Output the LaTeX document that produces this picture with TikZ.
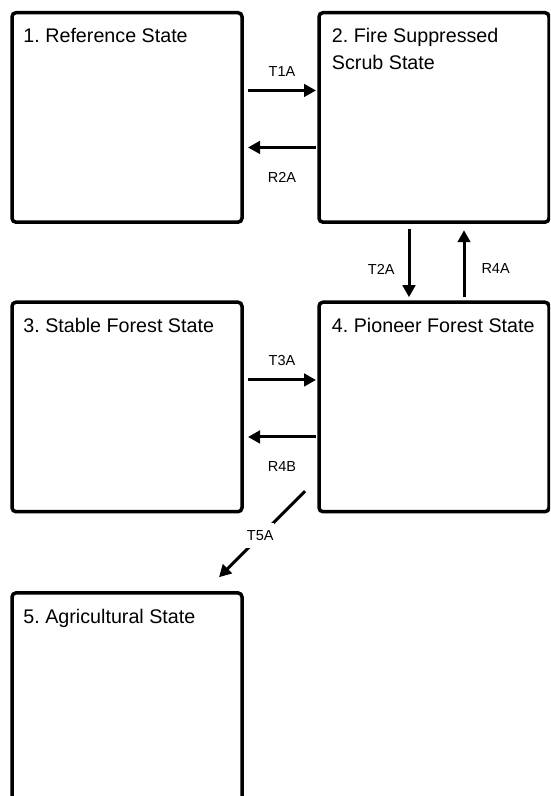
\documentclass[tikz,border=0pt]{standalone}
\usepackage{fontspec}
\setmainfont{Liberation Sans}
\usetikzlibrary{calc,positioning,arrows.meta}
\frenchspacing

\begin{document}
\begin{tikzpicture}[
                x=1pt,y=1pt,
                node distance=73.5pt,
                state/.style={draw,line width=3.5pt,rounded corners=4pt,minimum width=230pt,minimum height=209.5pt,inner sep=0pt},
                title/.style={anchor=base west,inner sep=0pt,align=left,font=\fontsize{19.7}{27}\selectfont},
                trans/.style={line width=3pt,-{Triangle[length=12pt,width=12.5pt]}},
                tlabel/.style={inner sep=0pt,font=\fontsize{14.5}{17}\selectfont}
            ]
                \useasboundingbox (0,0) rectangle (550,-796);
                \clip (0,0) rectangle (550,-796);
                % states
                \node (S1) [state] at (127,-117.45) {};
                \node (S2) [state,right=of S1] {};
                \node (S3) [state,below=76.5pt of S1] {};
                \node (S4) [state,right=of S3] {};
                \node (S5) [state,below=77.7pt of S3] {};
                \node (L1) [title] at ($(S1.north west)+(13,-32)$) {1. Reference State};
                \node (L2) [title] at ($(S2.north west)+(14.5,-59)$) {2. Fire Suppressed\\Scrub State};
                \node (L3) [title] at ($(S3.north west)+(13,-32)$) {3. Stable Forest State};
                \node (L4) [title] at ($(S4.north west)+(14.5,-32)$) {4. Pioneer Forest State};
                \node (L5) [title] at ($(S5.north west)+(13,-32)$) {5. Agricultural State};
                % transitions
                \draw[trans] ($(S1.north east)+(4.25,-79.5)$) -- node[tlabel,midway,above=12.8pt] (T1A) {T1A} ($(S2.north west)+(-1.25,-79.5)$);
                \draw[trans] ($(S2.north west)+(-1.25,-136.5)$) -- node[tlabel,midway,below=23pt] (R2A) {R2A} ($(S1.north east)+(4.25,-136.5)$);
                \draw[trans] ($(S3.north east)+(4.25,-79.5)$) -- node[tlabel,midway,above=12.8pt] (T3A) {T3A} ($(S4.north west)+(-1.25,-79.5)$);
                \draw[trans] ($(S4.north west)+(-1.25,-136.5)$) -- node[tlabel,midway,below=23pt] (R4B) {R4B} ($(S3.north east)+(4.25,-136.5)$);
                \draw[trans] ($(S2.south west)+(91.75,-5.25)$) -- node[tlabel,pos=0.59,left=13pt] (T2A) {T2A} ($(S4.north west)+(91.75,3.25)$);
                \draw[trans] ($(S4.north west)+(146.75,3.25)$) -- node[tlabel,pos=0.43,right=16pt] (R4A) {R4A} ($(S2.south west)+(146.75,-6.25)$);
                \draw[trans] ($(S4.south west)+(-12.25,22.25)$) -- node[tlabel,pos=0.52,fill=white,inner xsep=0.5pt,inner ysep=7.5pt] (T5A) {T5A} ($(S5.north east)+(-24.75,13.95)$);
            \end{tikzpicture}
\end{document}
